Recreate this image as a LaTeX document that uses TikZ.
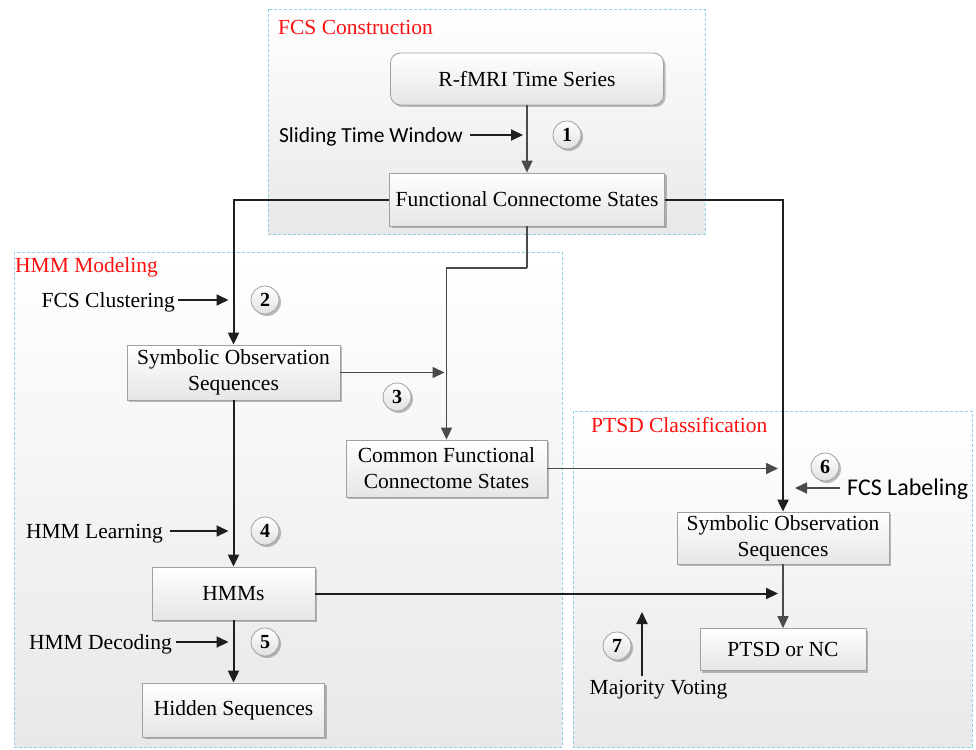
\documentclass[tikz,border=0pt]{standalone}
\usepackage{fontspec}
\setmainfont{Liberation Serif}
\newfontfamily\calib{Carlito}
\usetikzlibrary{arrows.meta,shadows}
\definecolor{grpline}{HTML}{8FD0EA}
\definecolor{boxline}{HTML}{A0A0A0}
\definecolor{lnk}{HTML}{1E1E1E}
\definecolor{lnkg}{HTML}{4A4A4A}
\definecolor{ttlred}{HTML}{FF1010}
\begin{document}
\begin{tikzpicture}[x=1pt,y=-1pt,
  grp/.style={draw=grpline, line width=0.8pt, dash pattern=on 3pt off 2pt, top color=white, bottom color=black!9},
  ttl/.style={anchor=base west, inner sep=0pt, text=ttlred, font=\fontsize{21.5}{25}\selectfont},
  shd/.style={drop shadow={shadow xshift=2pt, shadow yshift=-2pt, opacity=0.25, fill=black}},
  box/.style={draw=boxline, line width=0.8pt, top color=white, bottom color=black!10, shd, align=center, inner sep=2pt, font=\fontsize{21.5}{26}\selectfont},
  lbl/.style={inner sep=0pt, text height=14.5pt, text depth=0pt, font=\fontsize{21.5}{25}\selectfont},
  num/.style={circle, draw=boxline, line width=0.8pt, top color=white, bottom color=black!12, shd, minimum size=28pt, inner sep=0pt, font=\bfseries\fontsize{20}{22}\selectfont},
  arr/.style={draw=lnk, line width=2pt, -{Triangle[length=12pt,width=11pt]}},
  arrg/.style={draw=lnkg, line width=1.6pt, -{Triangle[length=12pt,width=11pt]}},
  ln/.style={draw=lnkg, line width=1.6pt},
]
\useasboundingbox (0,0) rectangle (976,749);
% groups
\path[grp] (268,9) rectangle (705,234);
\path[grp] (14,252) rectangle (562,747);
\path[grp] (573,411) rectangle (972,747);
\node[ttl] (t1) at (278,35) {FCS Construction};
\node[ttl] (t2) at (15,272) {HMM Modeling};
\node[ttl] (t3) at (591,432) {PTSD Classification};
% main nodes
\node[box, minimum width=273pt, minimum height=52pt, rounded corners=10pt] (rts) at (527,79) {R-fMRI Time Series};
\node[box, minimum width=275pt, minimum height=53pt] (fcs) at (527,199.5) {Functional Connectome States};
\node[box, minimum width=213pt, minimum height=55pt] (sos1) at (233.5,372.5) {Symbolic Observation\\Sequences};
\node[box, minimum width=201pt, minimum height=57pt] (cfcs) at (446.5,468.5) {Common Functional\\Connectome States};
\node[box, minimum width=163pt, minimum height=53pt] (hmms) at (233.5,593.5) {HMMs};
\node[box, minimum width=182pt, minimum height=54pt] (hid) at (233.5,710) {Hidden Sequences};
\node[box, minimum width=212pt, minimum height=52pt] (sos2) at (783,538) {Symbolic Observation\\Sequences};
\node[box, minimum width=166pt, minimum height=42pt] (ptsd) at (783,649.5) {PTSD or NC};
% step numbers
\node[num] (n1) at (567,135) {1};
\node[num] (n2) at (265,300) {2};
\node[num] (n3) at (397,397) {3};
\node[num] (n4) at (265,531) {4};
\node[num] (n5) at (265,642) {5};
\node[num] (n6) at (825,467) {6};
\node[num] (n7) at (617,646) {7};
% labels
\node[lbl, anchor=east, font=\calib\fontsize{21.5}{25}\selectfont] (lsw) at (463,135) {Sliding Time Window};
\node[lbl, anchor=east] (lcl) at (175,300) {FCS Clustering};
\node[lbl, anchor=east] (lle) at (163,531) {HMM Learning};
\node[lbl, anchor=east] (lde) at (172,642) {HMM Decoding};
\node[lbl, anchor=west, font=\calib\fontsize{24}{26}\selectfont] (lla) at (847,488) {FCS Labeling};
\node[lbl, anchor=north] (lmv) at (658.5,680) {Majority Voting};
\coordinate (k1) at (527,268);
\coordinate (mvtip) at (642,612);
% connectors
\draw[arrg] (rts) -- (fcs);
\draw[arr] (fcs.west) -| (sos1.north);
\draw[arr] (fcs.east) -| (sos2.north);
\draw[ln] (fcs.south) -- (k1);
\draw[arrg] (k1) -| (cfcs.north);
\draw[arrg, shorten >=2pt] (sos1.east) -- (sos1.east -| cfcs.north);
\draw[arrg, shorten >=5pt] (cfcs.east) -- (cfcs.east -| sos2.north);
\draw[arr] (sos1) -- (hmms);
\draw[arr] (hmms) -- (hid);
\draw[arr, shorten >=5pt] (hmms.east) -- (hmms.east -| sos2.south);
\draw[arrg] (sos2) -- (ptsd);
\draw[arr, shorten <=7pt, shorten >=4pt] (lsw.east) -- (lsw.east -| fcs.north);
\draw[arr, shorten <=3pt, shorten >=5pt] (lcl.east) -- (lcl.east -| sos1.north);
\draw[arr, shorten <=7pt, shorten >=5pt] (lle.east) -- (lle.east -| hmms.north);
\draw[arr, shorten <=4pt, shorten >=5pt] (lde.east) -- (lde.east -| hid.north);
\draw[arrg, shorten <=7pt, shorten >=12pt] (lla.west) -- (lla.west -| sos2.north);
\draw[arr] (mvtip |- lmv.north) ++(0,-4) -- (mvtip);
\end{tikzpicture}
\end{document}
